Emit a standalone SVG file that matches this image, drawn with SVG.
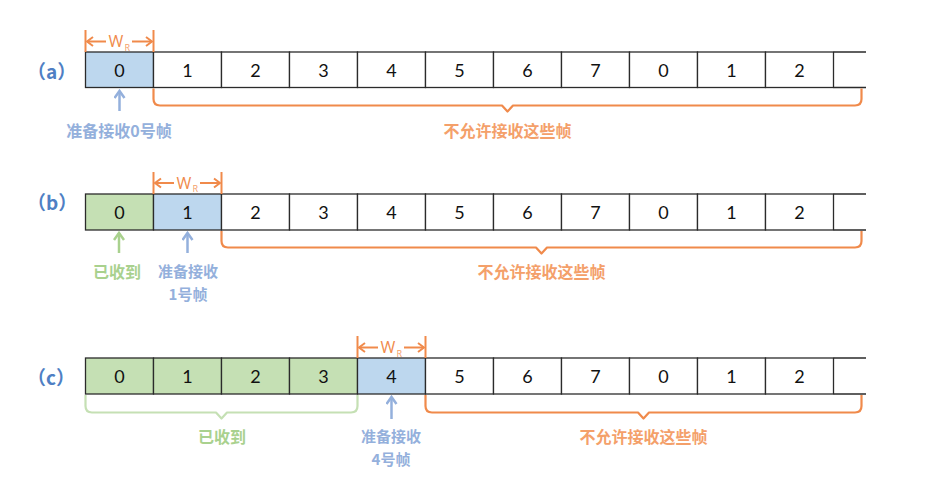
<svg xmlns="http://www.w3.org/2000/svg" width="932" height="492" viewBox="0 0 932 492">
<style>
.cell{stroke:#2b2b2b;stroke-width:1.3}
.wh{fill:#ffffff}
.bl{fill:#bdd7ee}
.gr{fill:#c5e0b4}
.num{font-family:Lato,"Open Sans","Liberation Sans",sans-serif;font-size:18px;fill:#111;text-anchor:middle;dominant-baseline:central}
.lab{font-family:"Noto Sans CJK SC","Noto Sans",sans-serif;font-size:19px;font-weight:bold;fill:#4f7fc4;dominant-baseline:central}
.cn{font-family:"Noto Sans CJK SC",sans-serif;font-size:16px;font-weight:bold;text-anchor:middle;dominant-baseline:central}
.cs{font-size:15px}
.or{fill:#f4a06a}
.bt{fill:#94b0dc}
.gt{fill:#a9d18e}
.ob{fill:none;stroke:#f08a4b;stroke-width:2.2;stroke-linejoin:round}
.gb{fill:none;stroke:#c5e0b4;stroke-width:2.2;stroke-linejoin:round}
.wl{stroke:#f08a4b;stroke-width:2}
.wa{stroke:#f08a4b;stroke-width:2;marker-end:url(#oh)}
.ba{stroke:#94b0dc;stroke-width:2.5;marker-end:url(#bh)}
.ga{stroke:#a9d18e;stroke-width:2.5;marker-end:url(#gh)}
.w{font-family:"Open Sans","Liberation Sans",Arial,sans-serif;font-size:16px;fill:#f08a4b;text-anchor:middle}
.r{font-family:"Open Sans","Liberation Sans",Arial,sans-serif;font-size:9px;fill:#f4a06a}
</style>
<defs>
<marker id="oh" markerWidth="9" markerHeight="12" refX="7.5" refY="6" orient="auto" markerUnits="userSpaceOnUse"><path d="M1.5,1.5 L7.5,6 L1.5,10.5" fill="none" stroke="#f08a4b" stroke-width="2"/></marker>
<marker id="bh" markerWidth="12" markerHeight="12" refX="9" refY="6" orient="auto" markerUnits="userSpaceOnUse"><path d="M2,1 L9,6 L2,11" fill="none" stroke="#94b0dc" stroke-width="2.5"/></marker>
<marker id="gh" markerWidth="12" markerHeight="12" refX="9" refY="6" orient="auto" markerUnits="userSpaceOnUse"><path d="M2,1 L9,6 L2,11" fill="none" stroke="#a9d18e" stroke-width="2.5"/></marker>
</defs>
<rect width="932" height="492" fill="#ffffff"/>

<!-- Row (a) -->
<text class="lab" x="27" y="70">（a）</text>
<g id="a-cells">
<rect class="cell bl" x="85.5" y="52" width="68" height="35.5"/>
<rect class="cell wh" x="153.5" y="52" width="68" height="35.5"/>
<rect class="cell wh" x="221.5" y="52" width="68" height="35.5"/>
<rect class="cell wh" x="289.5" y="52" width="68" height="35.5"/>
<rect class="cell wh" x="357.5" y="52" width="68" height="35.5"/>
<rect class="cell wh" x="425.5" y="52" width="68" height="35.5"/>
<rect class="cell wh" x="493.5" y="52" width="68" height="35.5"/>
<rect class="cell wh" x="561.5" y="52" width="68" height="35.5"/>
<rect class="cell wh" x="629.5" y="52" width="68" height="35.5"/>
<rect class="cell wh" x="697.5" y="52" width="68" height="35.5"/>
<rect class="cell wh" x="765.5" y="52" width="68" height="35.5"/>
<path class="cell" d="M833.5,52 H866 M833.5,87.5 H866" fill="none"/>
<text class="num" x="119.5" y="70">0</text>
<text class="num" x="187.5" y="70">1</text>
<text class="num" x="255.5" y="70">2</text>
<text class="num" x="323.5" y="70">3</text>
<text class="num" x="391.5" y="70">4</text>
<text class="num" x="459.5" y="70">5</text>
<text class="num" x="527.5" y="70">6</text>
<text class="num" x="595.5" y="70">7</text>
<text class="num" x="663.5" y="70">0</text>
<text class="num" x="731.5" y="70">1</text>
<text class="num" x="799.5" y="70">2</text>
</g>
<g id="a-window">
<line class="wl" x1="85.5" y1="30" x2="85.5" y2="52"/>
<line class="wl" x1="153.5" y1="30" x2="153.5" y2="52"/>
<line class="wa" x1="106" y1="41.5" x2="87" y2="41.5"/>
<line class="wa" x1="132" y1="41.5" x2="152" y2="41.5"/>
<text class="w" x="116" y="47">W</text><text class="r" x="124.5" y="50.5">R</text>
</g>
<g id="connectors-a">
<path class="ob" d="M153.5,88.5 V99 Q153.5,105.5 160,105.5 H502 L507.5,111.5 L513,105.5 H855 Q861.5,105.5 861.5,99 V88.5"/>
<line class="ba" x1="119.5" y1="111" x2="119.5" y2="91"/>
</g>
<text class="cn bt" x="119" y="130">准备接收0号帧</text>
<text class="cn or" x="507.5" y="130">不允许接收这些帧</text>

<!-- Row (b) -->
<text class="lab" x="27" y="201">（b）</text>
<g id="b-cells">
<rect class="cell gr" x="85.5" y="194" width="68" height="36"/>
<rect class="cell bl" x="153.5" y="194" width="68" height="36"/>
<rect class="cell wh" x="221.5" y="194" width="68" height="36"/>
<rect class="cell wh" x="289.5" y="194" width="68" height="36"/>
<rect class="cell wh" x="357.5" y="194" width="68" height="36"/>
<rect class="cell wh" x="425.5" y="194" width="68" height="36"/>
<rect class="cell wh" x="493.5" y="194" width="68" height="36"/>
<rect class="cell wh" x="561.5" y="194" width="68" height="36"/>
<rect class="cell wh" x="629.5" y="194" width="68" height="36"/>
<rect class="cell wh" x="697.5" y="194" width="68" height="36"/>
<rect class="cell wh" x="765.5" y="194" width="68" height="36"/>
<path class="cell" d="M833.5,194 H866 M833.5,230 H866" fill="none"/>
<text class="num" x="119.5" y="212">0</text>
<text class="num" x="187.5" y="212">1</text>
<text class="num" x="255.5" y="212">2</text>
<text class="num" x="323.5" y="212">3</text>
<text class="num" x="391.5" y="212">4</text>
<text class="num" x="459.5" y="212">5</text>
<text class="num" x="527.5" y="212">6</text>
<text class="num" x="595.5" y="212">7</text>
<text class="num" x="663.5" y="212">0</text>
<text class="num" x="731.5" y="212">1</text>
<text class="num" x="799.5" y="212">2</text>
</g>
<g id="b-window">
<line class="wl" x1="153.5" y1="172" x2="153.5" y2="194"/>
<line class="wl" x1="221.5" y1="172" x2="221.5" y2="194"/>
<line class="wa" x1="174" y1="183" x2="155" y2="183"/>
<line class="wa" x1="200" y1="183" x2="220" y2="183"/>
<text class="w" x="184" y="188.5">W</text><text class="r" x="192.5" y="192">R</text>
</g>
<g id="connectors-b">
<path class="ob" d="M221.5,231 V241 Q221.5,247.5 228,247.5 H536 L541.5,253.5 L547,247.5 H855 Q861.5,247.5 861.5,241 V231"/>
<line class="ga" x1="119" y1="253" x2="119" y2="233"/>
<line class="ba" x1="187.5" y1="253" x2="187.5" y2="233"/>
</g>
<text class="cn gt" x="117" y="271">已收到</text>
<text class="cn cs bt" x="188" y="270">准备接收</text>
<text class="cn cs bt" x="188" y="293">1号帧</text>
<text class="cn or" x="541.5" y="271">不允许接收这些帧</text>

<!-- Row (c) -->
<text class="lab" x="27" y="376">（c）</text>
<g id="c-cells">
<rect class="cell gr" x="85.5" y="358" width="68" height="36"/>
<rect class="cell gr" x="153.5" y="358" width="68" height="36"/>
<rect class="cell gr" x="221.5" y="358" width="68" height="36"/>
<rect class="cell gr" x="289.5" y="358" width="68" height="36"/>
<rect class="cell bl" x="357.5" y="358" width="68" height="36"/>
<rect class="cell wh" x="425.5" y="358" width="68" height="36"/>
<rect class="cell wh" x="493.5" y="358" width="68" height="36"/>
<rect class="cell wh" x="561.5" y="358" width="68" height="36"/>
<rect class="cell wh" x="629.5" y="358" width="68" height="36"/>
<rect class="cell wh" x="697.5" y="358" width="68" height="36"/>
<rect class="cell wh" x="765.5" y="358" width="68" height="36"/>
<path class="cell" d="M833.5,358 H866 M833.5,394 H866" fill="none"/>
<text class="num" x="119.5" y="376">0</text>
<text class="num" x="187.5" y="376">1</text>
<text class="num" x="255.5" y="376">2</text>
<text class="num" x="323.5" y="376">3</text>
<text class="num" x="391.5" y="376">4</text>
<text class="num" x="459.5" y="376">5</text>
<text class="num" x="527.5" y="376">6</text>
<text class="num" x="595.5" y="376">7</text>
<text class="num" x="663.5" y="376">0</text>
<text class="num" x="731.5" y="376">1</text>
<text class="num" x="799.5" y="376">2</text>
</g>
<g id="c-window">
<line class="wl" x1="357.5" y1="336" x2="357.5" y2="358"/>
<line class="wl" x1="425.5" y1="336" x2="425.5" y2="358"/>
<line class="wa" x1="378" y1="347.5" x2="359" y2="347.5"/>
<line class="wa" x1="404" y1="347.5" x2="424" y2="347.5"/>
<text class="w" x="388" y="353">W</text><text class="r" x="396.5" y="356.5">R</text>
</g>
<g id="connectors-c">
<path class="gb" d="M85.5,395 V406 Q85.5,412.5 92,412.5 H216 L221.5,418.5 L227,412.5 H351 Q357.5,412.5 357.5,406 V395"/>
<path class="ob" d="M425.5,395 V406 Q425.5,412.5 432,412.5 H638 L643.5,418.5 L649,412.5 H855 Q861.5,412.5 861.5,406 V395"/>
<line class="ba" x1="391.5" y1="419" x2="391.5" y2="397"/>
</g>
<text class="cn gt" x="222" y="436">已收到</text>
<text class="cn cs bt" x="391" y="435">准备接收</text>
<text class="cn cs bt" x="391" y="458">4号帧</text>
<text class="cn or" x="643.5" y="436">不允许接收这些帧</text>
</svg>
